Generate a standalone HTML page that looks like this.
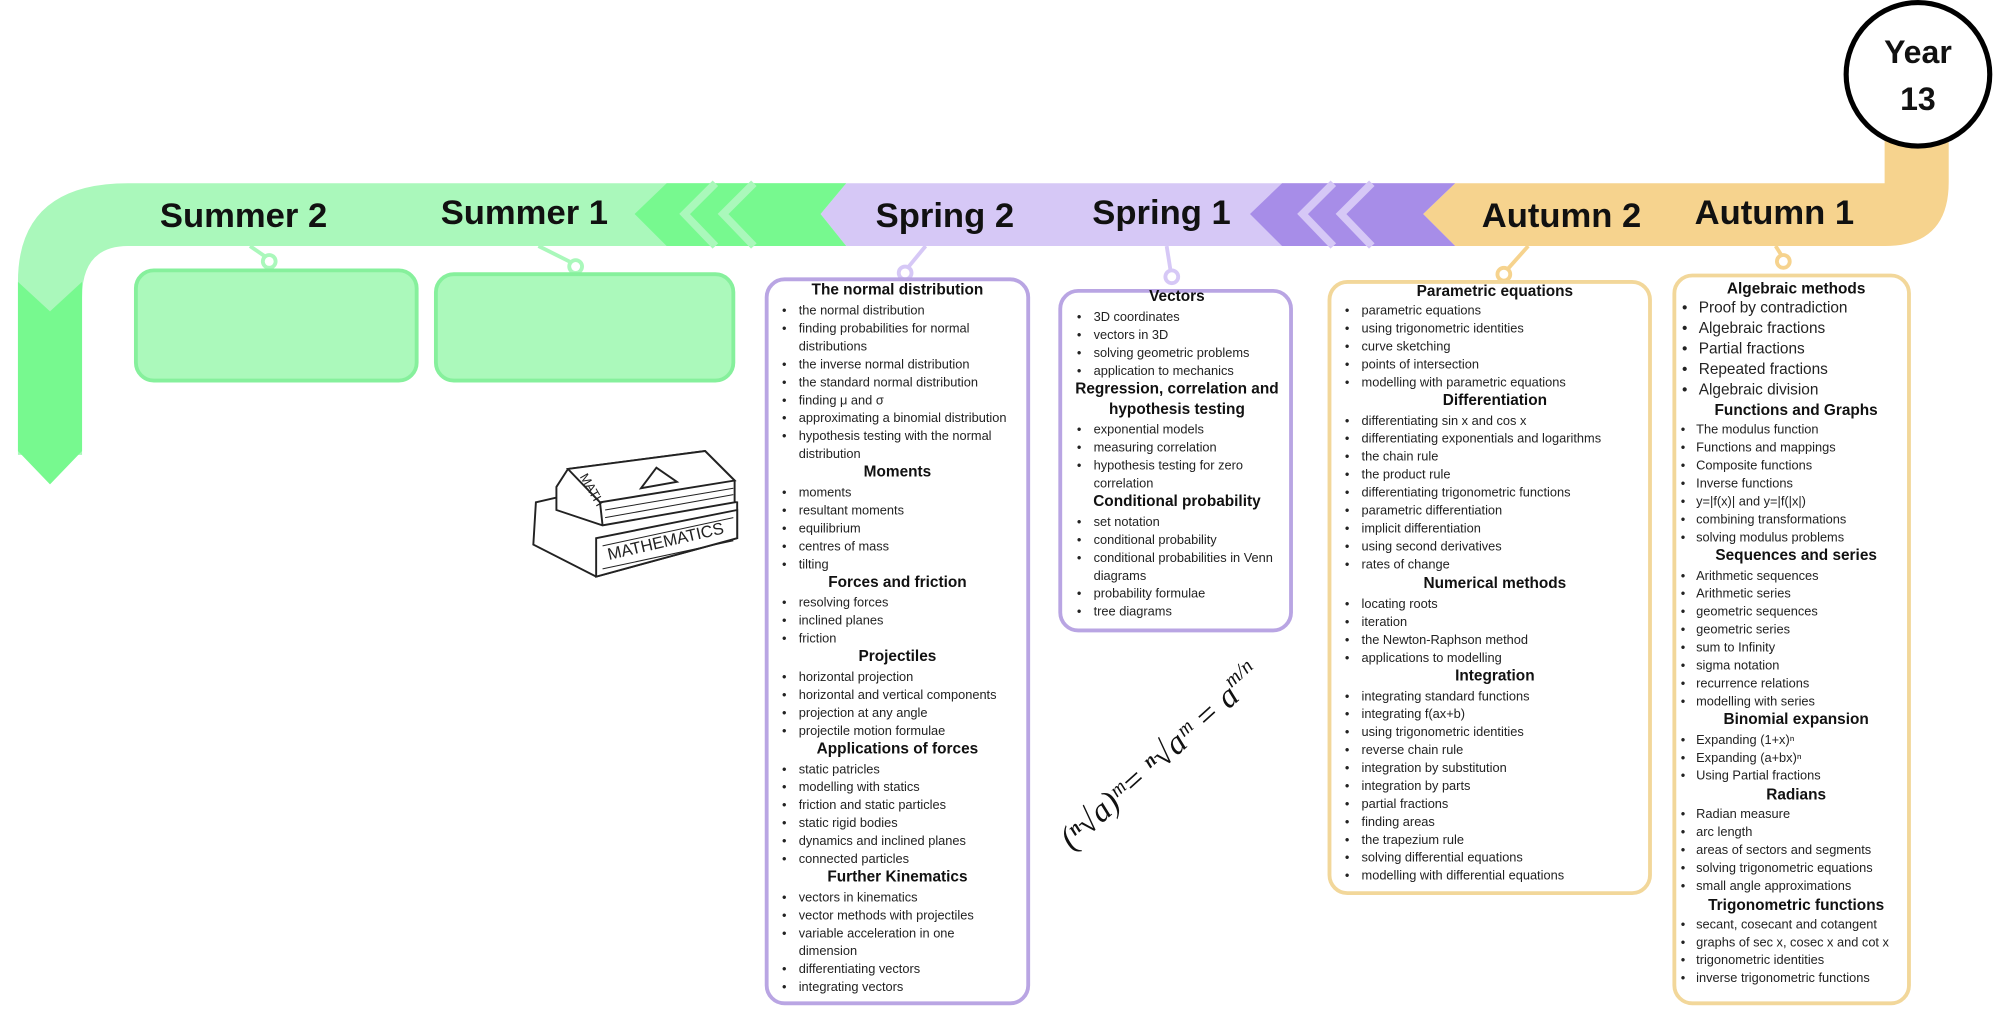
<!DOCTYPE html>
<html><head><meta charset="utf-8"><style>
html,body{margin:0;padding:0;background:#fff;}
svg{display:block;}
.t{font-family:"Liberation Sans",sans-serif;font-size:10px;fill:#222;}
.h{font-family:"Liberation Sans",sans-serif;font-size:12px;font-weight:bold;fill:#111;text-anchor:middle;}
.big{font-family:"Liberation Sans",sans-serif;font-size:27px;font-weight:bold;fill:#111;text-anchor:middle;}
</style></head><body>
<svg width="2000" height="1011" viewBox="0 0 1560 789" preserveAspectRatio="none" xmlns="http://www.w3.org/2000/svg">
<path d="M1135,143 L1470,143 L1470,100 L1520,100 L1520,142 Q1520,192 1470,192 L1135,192 L1110,167 Z" fill="#f6d38e"/>
<path d="M660,143 L1135,143 L1110,167 L1135,192 L660,192 L640,167 Z" fill="#d6c8f6"/>
<path d="M1000,143 L1135,143 L1110,167 L1135,192 L1000,192 L975,167 Z" fill="#a78de8"/>
<polyline points="1040,143 1016,167 1040,192" fill="none" stroke="#d6c8f6" stroke-width="6"/>
<polyline points="1070,143 1046,167 1070,192" fill="none" stroke="#d6c8f6" stroke-width="6"/>
<path d="M14,355 L14,220 Q14,143 100,143 L660,143 L640,167 L660,192 L100,192 Q64,192 64,232 L64,355 Z" fill="#aaf8bb"/>
<path d="M520,143 L660,143 L640,167 L660,192 L520,192 L495,167 Z" fill="#77f98f"/>
<polyline points="558,143 534,167 558,192" fill="none" stroke="#aaf8bb" stroke-width="6"/>
<polyline points="588,143 564,167 588,192" fill="none" stroke="#aaf8bb" stroke-width="6"/>
<path d="M14,220 L39,243 L64,220 L64,352 L39,378 L14,352 Z" fill="#77f98f"/>
<circle cx="1496" cy="58" r="56" fill="#fff" stroke="#000" stroke-width="4"/>
<text class="big" x="1496" y="49" style="font-size:25px">Year</text>
<text class="big" x="1496" y="86" style="font-size:25px">13</text>
<text class="big" x="190" y="177">Summer 2</text>
<text class="big" x="409" y="175">Summer 1</text>
<text class="big" x="737" y="177">Spring 2</text>
<text class="big" x="906" y="175">Spring 1</text>
<text class="big" x="1218" y="177">Autumn 2</text>
<text class="big" x="1384" y="175">Autumn 1</text>
<g stroke-width="3" fill="#fff">
<line x1="195" y1="192" x2="208" y2="201" stroke="#aaf8bb"/><circle cx="210" cy="204" r="5" stroke="#aaf8bb"/>
<line x1="420" y1="192" x2="446" y2="205" stroke="#aaf8bb"/><circle cx="449" cy="208" r="5" stroke="#aaf8bb"/>
<line x1="722" y1="192" x2="708" y2="209" stroke="#d6c8f6"/><circle cx="706" cy="213" r="5" stroke="#d6c8f6"/>
<line x1="910" y1="192" x2="913" y2="211" stroke="#d6c8f6"/><circle cx="914" cy="216" r="5" stroke="#d6c8f6"/>
<line x1="1192" y1="192" x2="1176" y2="210" stroke="#f6d38e"/><circle cx="1173" cy="214" r="5" stroke="#f6d38e"/>
<line x1="1385" y1="192" x2="1390" y2="200" stroke="#f6d38e"/><circle cx="1391" cy="204" r="5" stroke="#f6d38e"/>
</g>
<rect x="106" y="211" width="219" height="86" rx="14" fill="#abf9bb" stroke="#86f09c" stroke-width="3"/>
<rect x="340" y="214" width="232" height="83" rx="14" fill="#abf9bb" stroke="#86f09c" stroke-width="3"/>
<rect x="598" y="218" width="204" height="565" rx="14" fill="#fff" stroke="#b9a5e3" stroke-width="3"/>
<rect x="827" y="227" width="180" height="265" rx="14" fill="#fff" stroke="#b9a5e3" stroke-width="3"/>
<rect x="1037" y="220" width="250" height="477" rx="14" fill="#fff" stroke="#f2d79a" stroke-width="3"/>
<rect x="1306" y="215" width="183" height="568" rx="14" fill="#fff" stroke="#f2d79a" stroke-width="3"/>

<g class="t">
<text class="h" x="700" y="230">The normal distribution</text>
<text x="610" y="245.5">•</text><text x="623" y="245.5">the normal distribution</text>
<text x="610" y="259.5">•</text><text x="623" y="259.5">finding probabilities for normal</text>
<text x="623" y="273.5">distributions</text>
<text x="610" y="287.5">•</text><text x="623" y="287.5">the inverse normal distribution</text>
<text x="610" y="301.5">•</text><text x="623" y="301.5">the standard normal distribution</text>
<text x="610" y="315.5">•</text><text x="623" y="315.5">finding μ and σ</text>
<text x="610" y="329.5">•</text><text x="623" y="329.5">approximating a binomial distribution</text>
<text x="610" y="343.5">•</text><text x="623" y="343.5">hypothesis testing with the normal</text>
<text x="623" y="357.5">distribution</text>
<text class="h" x="700" y="372">Moments</text>
<text x="610" y="387.5">•</text><text x="623" y="387.5">moments</text>
<text x="610" y="401.5">•</text><text x="623" y="401.5">resultant moments</text>
<text x="610" y="415.5">•</text><text x="623" y="415.5">equilibrium</text>
<text x="610" y="429.5">•</text><text x="623" y="429.5">centres of mass</text>
<text x="610" y="443.5">•</text><text x="623" y="443.5">tilting</text>
<text class="h" x="700" y="458">Forces and friction</text>
<text x="610" y="473.5">•</text><text x="623" y="473.5">resolving forces</text>
<text x="610" y="487.5">•</text><text x="623" y="487.5">inclined planes</text>
<text x="610" y="501.5">•</text><text x="623" y="501.5">friction</text>
<text class="h" x="700" y="516">Projectiles</text>
<text x="610" y="531.5">•</text><text x="623" y="531.5">horizontal projection</text>
<text x="610" y="545.5">•</text><text x="623" y="545.5">horizontal and vertical components</text>
<text x="610" y="559.5">•</text><text x="623" y="559.5">projection at any angle</text>
<text x="610" y="573.5">•</text><text x="623" y="573.5">projectile motion formulae</text>
<text class="h" x="700" y="588">Applications of forces</text>
<text x="610" y="603.5">•</text><text x="623" y="603.5">static patricles</text>
<text x="610" y="617.5">•</text><text x="623" y="617.5">modelling with statics</text>
<text x="610" y="631.5">•</text><text x="623" y="631.5">friction and static particles</text>
<text x="610" y="645.5">•</text><text x="623" y="645.5">static rigid bodies</text>
<text x="610" y="659.5">•</text><text x="623" y="659.5">dynamics and inclined planes</text>
<text x="610" y="673.5">•</text><text x="623" y="673.5">connected particles</text>
<text class="h" x="700" y="688">Further Kinematics</text>
<text x="610" y="703.5">•</text><text x="623" y="703.5">vectors in kinematics</text>
<text x="610" y="717.5">•</text><text x="623" y="717.5">vector methods with projectiles</text>
<text x="610" y="731.5">•</text><text x="623" y="731.5">variable acceleration in one</text>
<text x="623" y="745.5">dimension</text>
<text x="610" y="759.5">•</text><text x="623" y="759.5">differentiating vectors</text>
<text x="610" y="773.5">•</text><text x="623" y="773.5">integrating vectors</text>
</g>

<g class="t">
<text class="h" x="918" y="235">Vectors</text>
<text x="840" y="250.5">•</text><text x="853" y="250.5">3D coordinates</text>
<text x="840" y="264.5">•</text><text x="853" y="264.5">vectors in 3D</text>
<text x="840" y="278.5">•</text><text x="853" y="278.5">solving geometric problems</text>
<text x="840" y="292.5">•</text><text x="853" y="292.5">application to mechanics</text>
<text class="h" x="918" y="307">Regression, correlation and</text>
<text class="h" x="918" y="323">hypothesis testing</text>
<text x="840" y="338.5">•</text><text x="853" y="338.5">exponential models</text>
<text x="840" y="352.5">•</text><text x="853" y="352.5">measuring correlation</text>
<text x="840" y="366.5">•</text><text x="853" y="366.5">hypothesis testing for zero</text>
<text x="853" y="380.5">correlation</text>
<text class="h" x="918" y="395">Conditional probability</text>
<text x="840" y="410.5">•</text><text x="853" y="410.5">set notation</text>
<text x="840" y="424.5">•</text><text x="853" y="424.5">conditional probability</text>
<text x="840" y="438.5">•</text><text x="853" y="438.5">conditional probabilities in Venn</text>
<text x="853" y="452.5">diagrams</text>
<text x="840" y="466.5">•</text><text x="853" y="466.5">probability formulae</text>
<text x="840" y="480.5">•</text><text x="853" y="480.5">tree diagrams</text>
</g>

<g class="t">
<text class="h" x="1166" y="231">Parametric equations</text>
<text x="1049" y="245.5">•</text><text x="1062" y="245.5">parametric equations</text>
<text x="1049" y="259.5">•</text><text x="1062" y="259.5">using trigonometric identities</text>
<text x="1049" y="273.5">•</text><text x="1062" y="273.5">curve sketching</text>
<text x="1049" y="287.5">•</text><text x="1062" y="287.5">points of intersection</text>
<text x="1049" y="301.5">•</text><text x="1062" y="301.5">modelling with parametric equations</text>
<text class="h" x="1166" y="316">Differentiation</text>
<text x="1049" y="331.5">•</text><text x="1062" y="331.5">differentiating sin x and cos x</text>
<text x="1049" y="345.5">•</text><text x="1062" y="345.5">differentiating exponentials and logarithms</text>
<text x="1049" y="359.5">•</text><text x="1062" y="359.5">the chain rule</text>
<text x="1049" y="373.5">•</text><text x="1062" y="373.5">the product rule</text>
<text x="1049" y="387.5">•</text><text x="1062" y="387.5">differentiating trigonometric functions</text>
<text x="1049" y="401.5">•</text><text x="1062" y="401.5">parametric differentiation</text>
<text x="1049" y="415.5">•</text><text x="1062" y="415.5">implicit differentiation</text>
<text x="1049" y="429.5">•</text><text x="1062" y="429.5">using second derivatives</text>
<text x="1049" y="443.5">•</text><text x="1062" y="443.5">rates of change</text>
<text class="h" x="1166" y="459">Numerical methods</text>
<text x="1049" y="474.5">•</text><text x="1062" y="474.5">locating roots</text>
<text x="1049" y="488.5">•</text><text x="1062" y="488.5">iteration</text>
<text x="1049" y="502.5">•</text><text x="1062" y="502.5">the Newton-Raphson method</text>
<text x="1049" y="516.5">•</text><text x="1062" y="516.5">applications to modelling</text>
<text class="h" x="1166" y="531">Integration</text>
<text x="1049" y="546.5">•</text><text x="1062" y="546.5">integrating standard functions</text>
<text x="1049" y="560.5">•</text><text x="1062" y="560.5">integrating f(ax+b)</text>
<text x="1049" y="574.5">•</text><text x="1062" y="574.5">using trigonometric identities</text>
<text x="1049" y="588.5">•</text><text x="1062" y="588.5">reverse chain rule</text>
<text x="1049" y="602.5">•</text><text x="1062" y="602.5">integration by substitution</text>
<text x="1049" y="616.5">•</text><text x="1062" y="616.5">integration by parts</text>
<text x="1049" y="630.5">•</text><text x="1062" y="630.5">partial fractions</text>
<text x="1049" y="644.5">•</text><text x="1062" y="644.5">finding areas</text>
<text x="1049" y="658.5">•</text><text x="1062" y="658.5">the trapezium rule</text>
<text x="1049" y="672.5">•</text><text x="1062" y="672.5">solving differential equations</text>
<text x="1049" y="686.5">•</text><text x="1062" y="686.5">modelling with differential equations</text>
</g>

<g class="t">
<text class="h" x="1401" y="229">Algebraic methods</text>
<g style="font-size:12px">
<text x="1312" y="244">•</text><text x="1325" y="244">Proof by contradiction</text>
<text x="1312" y="260">•</text><text x="1325" y="260">Algebraic fractions</text>
<text x="1312" y="276">•</text><text x="1325" y="276">Partial fractions</text>
<text x="1312" y="292">•</text><text x="1325" y="292">Repeated fractions</text>
<text x="1312" y="308">•</text><text x="1325" y="308">Algebraic division</text>
</g>
<text class="h" x="1401" y="324">Functions and Graphs</text>
<text x="1311" y="338.5">•</text><text x="1323" y="338.5">The modulus function</text>
<text x="1311" y="352.5">•</text><text x="1323" y="352.5">Functions and mappings</text>
<text x="1311" y="366.5">•</text><text x="1323" y="366.5">Composite functions</text>
<text x="1311" y="380.5">•</text><text x="1323" y="380.5">Inverse functions</text>
<text x="1311" y="394.5">•</text><text x="1323" y="394.5">y=|f(x)| and y=|f(|x|)</text>
<text x="1311" y="408.5">•</text><text x="1323" y="408.5">combining transformations</text>
<text x="1311" y="422.5">•</text><text x="1323" y="422.5">solving modulus problems</text>
<text class="h" x="1401" y="437">Sequences and series</text>
<text x="1311" y="452.5">•</text><text x="1323" y="452.5">Arithmetic sequences</text>
<text x="1311" y="466.5">•</text><text x="1323" y="466.5">Arithmetic series</text>
<text x="1311" y="480.5">•</text><text x="1323" y="480.5">geometric sequences</text>
<text x="1311" y="494.5">•</text><text x="1323" y="494.5">geometric series</text>
<text x="1311" y="508.5">•</text><text x="1323" y="508.5">sum to Infinity</text>
<text x="1311" y="522.5">•</text><text x="1323" y="522.5">sigma notation</text>
<text x="1311" y="536.5">•</text><text x="1323" y="536.5">recurrence relations</text>
<text x="1311" y="550.5">•</text><text x="1323" y="550.5">modelling with series</text>
<text class="h" x="1401" y="565">Binomial expansion</text>
<text x="1311" y="580.5">•</text><text x="1323" y="580.5">Expanding (1+x)ⁿ</text>
<text x="1311" y="594.5">•</text><text x="1323" y="594.5">Expanding (a+bx)ⁿ</text>
<text x="1311" y="608.5">•</text><text x="1323" y="608.5">Using Partial fractions</text>
<text class="h" x="1401" y="624">Radians</text>
<text x="1311" y="638.5">•</text><text x="1323" y="638.5">Radian measure</text>
<text x="1311" y="652.5">•</text><text x="1323" y="652.5">arc length</text>
<text x="1311" y="666.5">•</text><text x="1323" y="666.5">areas of sectors and segments</text>
<text x="1311" y="680.5">•</text><text x="1323" y="680.5">solving trigonometric equations</text>
<text x="1311" y="694.5">•</text><text x="1323" y="694.5">small angle approximations</text>
<text class="h" x="1401" y="710">Trigonometric functions</text>
<text x="1311" y="724.5">•</text><text x="1323" y="724.5">secant, cosecant and cotangent</text>
<text x="1311" y="738.5">•</text><text x="1323" y="738.5">graphs of sec x, cosec x and cot x</text>
<text x="1311" y="752.5">•</text><text x="1323" y="752.5">trigonometric identities</text>
<text x="1311" y="766.5">•</text><text x="1323" y="766.5">inverse trigonometric functions</text>
</g>

<g stroke="#222" stroke-width="1.5" fill="#fff">
<path d="M418,392 L470,380 L575,392 L575,420 L465,450 L416,425 Z"/>
<path d="M465,420 L575,398 L575,420 L465,450 Z" fill="#fff"/>
<line x1="470" y1="426" x2="572" y2="404" stroke-width="0.8"/>
<line x1="470" y1="444" x2="572" y2="422" stroke-width="0.8"/>
<path d="M434,380 L443,366 L550,352 L573,375 L573,392 L470,410 L434,398 Z"/>
<path d="M443,366 L550,352 L573,375 L468,392 Z"/>
<line x1="468" y1="392" x2="470" y2="410"/>
<line x1="472" y1="398" x2="572" y2="381" stroke-width="0.8"/>
<line x1="472" y1="404" x2="572" y2="386" stroke-width="0.8"/>
<path d="M500,381 L512,365 L528,376 Z" fill="none"/>
</g>
<text x="0" y="0" transform="translate(475,437) rotate(-13)" style="font-family:'Liberation Sans',sans-serif;font-size:13px;fill:#222">MATHEMATICS</text>
<text x="0" y="0" transform="translate(452,372) rotate(60)" style="font-family:'Liberation Sans',sans-serif;font-size:10px;fill:#222">MATH</text>

<text x="0" y="0" transform="translate(836,664) rotate(-42)" style="font-family:'Liberation Serif',serif;font-style:italic;font-size:26px;fill:#111">(ⁿ√a)ᵐ= ⁿ√aᵐ = a<tspan font-size="16" dy="-11">m/n</tspan></text>
</svg>
</body></html>
